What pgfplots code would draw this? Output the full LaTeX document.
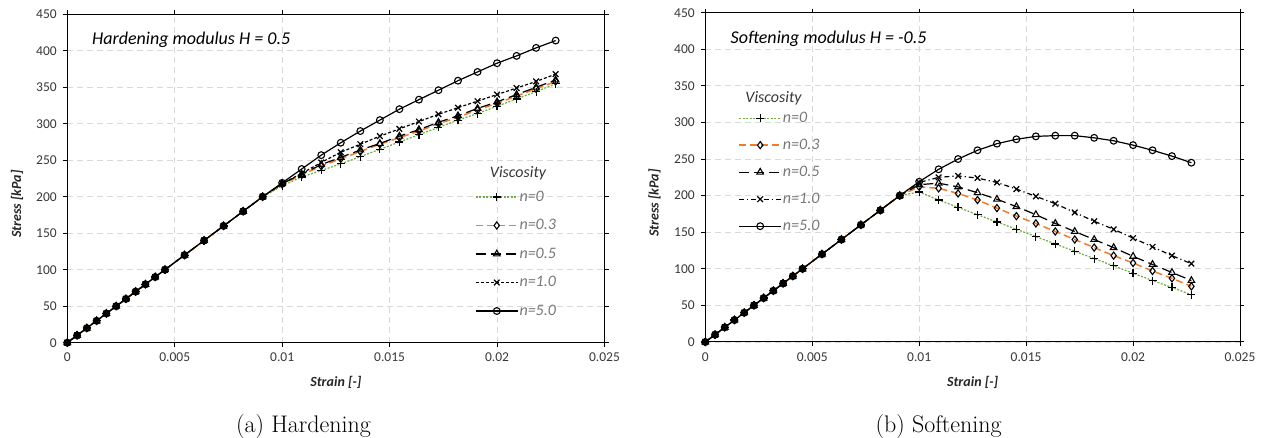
\documentclass[border=0pt]{standalone}
\usepackage{pgfplots}
\pgfplotsset{compat=1.18}
\usepackage{pgfplotstable}
\usepackage{fontspec}
\newfontfamily\carl{Carlito}
\definecolor{xlgreen}{RGB}{112,173,71}
\definecolor{xlorange}{RGB}{237,125,49}
\definecolor{tickgray}{RGB}{55,55,55}
\definecolor{leggray}{RGB}{120,120,120}
\definecolor{gridgray}{RGB}{217,217,217}

\pgfplotstableread{
x h0 h03 h05 h1 h5
0 0 0 0 0 0
0.000455 10 10 10 10 10
0.000909 20 20 20 20 20
0.001364 30 30 30 30 30
0.001818 40 40 40 40 40
0.002273 50 50 50 50 50
0.002727 60 60 60 60 60
0.003182 70 70 70 70 70
0.003636 80 80 80 80 80
0.004091 90 90 90 90 90
0.004545 100 100 100 100 100
0.005455 120 120 120 120 120
0.006364 140 140 140 140 140
0.007273 160 160 160 160 160
0.008182 180 180 180 180 180
0.009091 200 200 200 200 200
0.01 215 217 218 218 219
0.010909 227 230 231 232 238
0.011818 236 242 244 247 257
0.012727 245 252 254 261 274
0.013636 255 262 264 272 290
0.014545 265 272 273 283 305
0.015455 275 281 283 293 320
0.016364 285 290 292 303 333
0.017273 295 300 302 313 346
0.018182 305 309 311 322 359
0.019091 314 319 321 331 371
0.02 324 328 330 340 383
0.020909 334 338 340 349 393
0.021818 344 348 350 358 404
0.022727 355 358 360 368 414
}\hard

\pgfplotstableread{
x s0 s03 s05 s1 s5
0 0 0 0 0 0
0.000455 10 10 10 10 10
0.000909 20 20 20 20 20
0.001364 30 30 30 30 30
0.001818 40 40 40 40 40
0.002273 50 50 50 50 50
0.002727 60 60 60 60 60
0.003182 70 70 70 70 70
0.003636 80 80 80 80 80
0.004091 90 90 90 90 90
0.004545 100 100 100 100 100
0.005455 120 120 120 120 120
0.006364 140 140 140 140 140
0.007273 160 160 160 160 160
0.008182 180 180 180 180 180
0.009091 200 200 200 200 200
0.01 205 212 215 218 219
0.010909 194 210 217 225 236
0.011818 184 203 212 227 250
0.012727 174 194 204 224 262
0.013636 164 183 195 218 271
0.014545 154 172 185 209 277
0.015455 144 162 174 199 281
0.016364 134 151 162 189 282
0.017273 124 140 151 177 282
0.018182 114 129 140 165 279
0.019091 104 118 129 154 275
0.02 94 108 117 142 269
0.020909 84 97 106 130 262
0.021818 74.5 87 95 118 254
0.022727 64.5 76 84 107 245
}\soft

\pgfplotsset{
  myax/.style={
    scale only axis, anchor=south west,
    xmin=0, xmax=0.025, ymin=0, ymax=450,
    scaled x ticks=false, scaled y ticks=false,
    xtick={0,0.005,0.01,0.015,0.02,0.025},
    xticklabels={0,0.005,0.01,0.015,0.02,0.025},
    ytick={0,50,...,450},
    grid=major,
    grid style={gridgray, dash pattern=on 6pt off 4pt, line width=0.9pt},
    axis line style={black, line width=1pt},
    tick style={black, line width=1pt},
    tick align=outside, major tick length=4pt,
    /pgf/number format/assume math mode=true,
    ticklabel style={font=\carl\fontsize{13.5}{15}\selectfont, text=tickgray},
    xticklabel style={yshift=-3pt},
    yticklabel style={xshift=-3pt},
    label style={font=\carl\bfseries\itshape\fontsize{14}{16}\selectfont, text=black!85},
    xlabel={Strain [-]}, ylabel={Stress [kPa]},
    x label style={at={(axis description cs:0.5,-0.122)}, anchor=center},
    legend style={draw=none, fill=none, inner sep=0pt, outer sep=0pt,
      font=\carl\itshape\fontsize{16}{19}\selectfont, text=leggray,
      nodes={inner sep=1pt, text height=11pt, text depth=3pt, anchor=west},
      anchor=north west},
    legend cell align=left,
    legend image code/.code={\draw[mark repeat=2,mark phase=2] plot coordinates {(0pt,0pt)(21pt,0pt)(42pt,0pt)};},
  },
  s0/.style={xlgreen, line width=1.2pt, dash pattern=on 2pt off 1.5pt, mark=+, mark size=4pt, mark options={black, solid, line width=1.2pt}},
  s03/.style={xlorange, line width=1.5pt, dash pattern=on 7pt off 4pt, mark=diamond, mark size=3.6pt, mark options={black, solid, line width=1.1pt}},
  s05/.style={black, line width=1.2pt, dash pattern=on 10pt off 5pt, mark=triangle, mark size=3.8pt, mark options={black, solid, line width=1.1pt}},
  s5/.style={black, line width=1.2pt, solid, mark=o, mark size=3.4pt, mark options={black, solid, line width=1.1pt}},
}

\begin{document}
\begin{tikzpicture}
\useasboundingbox (0,0) rectangle (1270pt,438pt);

% ---------- (a) Hardening ----------
\begin{axis}[myax, at={(67.3pt,95.3pt)}, width=537.2pt, height=328.4pt,
  y label style={at={(axis description cs:-0.0936,0.4223)}, anchor=center},
  legend style={at={(axis description cs:0.759,0.468)}, row sep=12.5pt}]
\addplot[s0] table[x=x,y=h0]{\hard};
\addplot[s03] table[x=x,y=h03]{\hard};
\addplot[s05] table[x=x,y=h05]{\hard};
\addplot[black, line width=1.2pt, dash pattern=on 3pt off 2pt, mark=x, mark size=4pt, mark options={black, solid, line width=1.2pt}] table[x=x,y=h1]{\hard};
\addplot[s5] table[x=x,y=h5]{\hard};
\legend{n=0,n=0.3,n=0.5,n=1.0,n=5.0}
\end{axis}
\node[anchor=base west, inner sep=0pt, font=\carl\itshape\fontsize{18}{21}\selectfont] at (92pt,393pt) {Hardening modulus H = 0.5};
\node[anchor=center, inner sep=0pt, font=\carl\itshape\fontsize{16}{19}\selectfont, text=tickgray] at (518pt,265pt) {Viscosity};

% ---------- (b) Softening ----------
\begin{axis}[myax, at={(705.3pt,96pt)}, width=534.7pt, height=329.3pt,
  y label style={at={(axis description cs:-0.095,0.422)}, anchor=center},
  legend style={at={(axis description cs:0.062,0.704)}, row sep=11pt}]
\addplot[s0] table[x=x,y=s0]{\soft};
\addplot[s03] table[x=x,y=s03]{\soft};
\addplot[s05] table[x=x,y=s05]{\soft};
\addplot[black, line width=1.2pt, dash pattern=on 5pt off 3pt on 1.2pt off 3pt, mark=x, mark size=4pt, mark options={black, solid, line width=1.2pt}] table[x=x,y=s1]{\soft};
\addplot[s5] table[x=x,y=s5]{\soft};
\legend{n=0,n=0.3,n=0.5,n=1.0,n=5.0}
\end{axis}
\node[anchor=base west, inner sep=0pt, font=\carl\itshape\fontsize{18}{21}\selectfont] at (730.5pt,394pt) {Softening modulus H = -0.5};
\node[anchor=center, inner sep=0pt, font=\carl\itshape\fontsize{16}{19}\selectfont, text=tickgray] at (773.5pt,340pt) {Viscosity};

% ---------- captions ----------
\node[anchor=base, inner sep=0pt, font=\fontsize{24}{28}\selectfont] at (303.5pt,5.3pt) {(a) Hardening};
\node[anchor=base, inner sep=0pt, font=\fontsize{24}{28}\selectfont] at (938.6pt,5.3pt) {(b) Softening};
\end{tikzpicture}
\end{document}
